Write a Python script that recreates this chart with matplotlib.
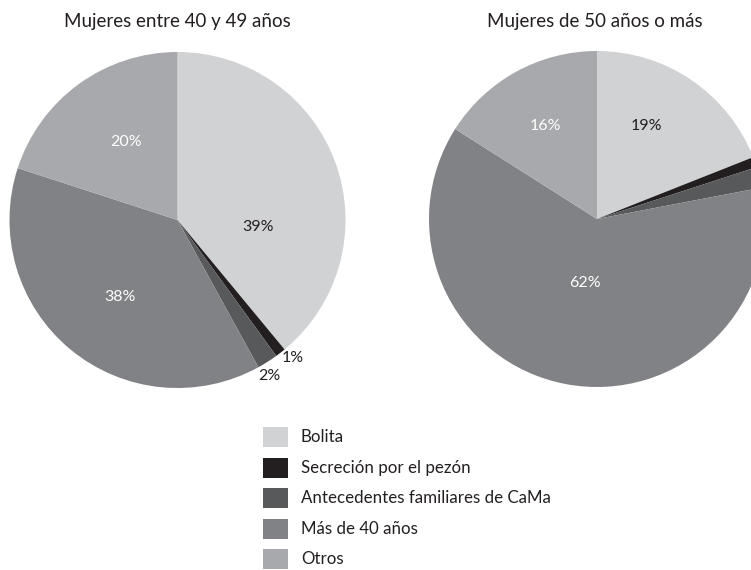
import matplotlib
matplotlib.use("Agg")
import matplotlib.pyplot as plt
from matplotlib.patches import Rectangle

plt.rcParams['font.family'] = ['Lato', 'DejaVu Sans']

categories = ["Bolita", "Secreción por el pezón", "Antecedentes familiares de CaMa",
              "Más de 40 años", "Otros"]
colors = ["#d1d2d4", "#231f20", "#58595b", "#808285", "#a7a9ac"]

title_1 = "Mujeres entre 40 y 49 años"
values_1 = [39, 1, 2, 38, 20]
labels_1 = ["39%", "1%", "2%", "38%", "20%"]

title_2 = "Mujeres de 50 años o más"
values_2 = [19, 1, 2, 62, 16]
labels_2 = ["19%", "", "", "62%", "16%"]

W, H = 751, 570
fig = plt.figure(figsize=(W / 100, H / 100), dpi=100)
ax = fig.add_axes([0, 0, 1, 1])

def py(y):
    return H - y

# layout: centers/radius in pixel coords
c1 = (177.5, py(220))
c2 = (597, py(219))
r = 168

for vals, c in ((values_1, c1), (values_2, c2)):
    ax.pie(vals, colors=colors, startangle=90, counterclock=False,
           center=c, radius=r, wedgeprops=dict(linewidth=0),
           normalize=True, frame=True)
ax.set_xlim(0, W)
ax.set_ylim(0, H)
ax.set_aspect('equal')
ax.axis('off')

# label offsets from center (pixels) and text colors
pos_1 = [(81, -7), (115, -138), (92, -156), (-58, -77), (-51, 78)]
col_1 = ["#231f20", "#231f20", "#231f20", "white", "white"]
pos_2 = [(49, 93), (0, 0), (0, 0), (-12, -64), (-52, 93)]
col_2 = ["#231f20", "#231f20", "#231f20", "white", "white"]

for labs, pos, cols, c in ((labels_1, pos_1, col_1, c1), (labels_2, pos_2, col_2, c2)):
    for lab, (dx, dy), col in zip(labs, pos, cols):
        if lab:
            ax.text(c[0] + dx, c[1] + dy, lab, color=col, fontsize=11.5,
                    ha='center', va='center')

ax.text(c1[0], py(22), title_1, fontsize=13.5, ha='center', va='center', color="#231f20")
ax.text(c2[0] - 2, py(22), title_2, fontsize=13.5, ha='center', va='center', color="#231f20")

# legend
ys = [437, 467.5, 498, 529, 559]
for cat, col, y in zip(categories, colors, ys):
    ax.add_patch(Rectangle((263, py(y) - 10), 25, 20, color=col, lw=0))
    ax.text(301, py(y), cat, fontsize=12.2, ha='left', va='center', color="#231f20")

fig.savefig("out.png", dpi=100)
